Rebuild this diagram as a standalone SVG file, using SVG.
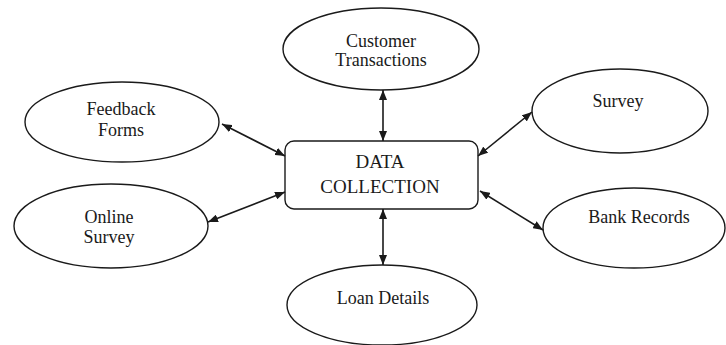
<svg xmlns="http://www.w3.org/2000/svg" width="726" height="345" viewBox="0 0 726 345">
  <style>
    .shape { fill: #ffffff; stroke: #1a1a1a; stroke-width: 1.4; }
    .label { font-family: "Liberation Serif", "Times New Roman", serif; font-size: 18px; fill: #1a1a1a; text-anchor: middle; }
    .link { stroke: #1a1a1a; stroke-width: 1.6; fill: none; marker-start: url(#head); marker-end: url(#head); }
  </style>
  <defs>
    <marker id="head" viewBox="0 0 10 8" refX="10" refY="4" markerWidth="10" markerHeight="8" markerUnits="userSpaceOnUse" orient="auto-start-reverse">
      <path d="M0,0 L10,4 L0,8 Z" fill="#1a1a1a"/>
    </marker>
  </defs>
  <rect width="726" height="345" fill="#ffffff"/>

  <g id="customer-transactions">
    <ellipse class="shape" cx="381" cy="49" rx="98" ry="41"/>
    <text class="label" x="381" y="47">Customer</text>
    <text class="label" x="381" y="66">Transactions</text>
  </g>

  <g id="data-collection">
    <rect class="shape" x="285" y="141" width="193" height="68" rx="9"/>
    <text class="label" x="380" y="168" style="font-size:19px">DATA</text>
    <text class="label" x="380" y="193" style="font-size:19px">COLLECTION</text>
  </g>

  <g id="feedback-forms">
    <ellipse class="shape" cx="122" cy="122" rx="97" ry="40"/>
    <text class="label" x="121" y="115">Feedback</text>
    <text class="label" x="121" y="136">Forms</text>
  </g>

  <g id="online-survey">
    <ellipse class="shape" cx="111" cy="226" rx="97" ry="42"/>
    <text class="label" x="109" y="223">Online</text>
    <text class="label" x="109" y="243">Survey</text>
  </g>

  <g id="survey">
    <ellipse class="shape" cx="620" cy="111" rx="88" ry="42"/>
    <text class="label" x="618" y="107">Survey</text>
  </g>

  <g id="bank-records">
    <ellipse class="shape" cx="634" cy="228" rx="91" ry="40"/>
    <text class="label" x="639" y="223">Bank Records</text>
  </g>

  <g id="loan-details">
    <ellipse class="shape" cx="382" cy="305" rx="95" ry="40"/>
    <text class="label" x="383" y="304">Loan Details</text>
  </g>

  <g id="connectors">
    <line class="link" x1="383" y1="90" x2="383" y2="141"/>
    <line class="link" x1="383" y1="209" x2="383" y2="265"/>
    <line class="link" x1="222" y1="124" x2="285" y2="156"/>
    <line class="link" x1="208" y1="222" x2="285" y2="192"/>
    <line class="link" x1="532" y1="112" x2="478" y2="156"/>
    <line class="link" x1="480" y1="191" x2="543" y2="230"/>
  </g>
</svg>
